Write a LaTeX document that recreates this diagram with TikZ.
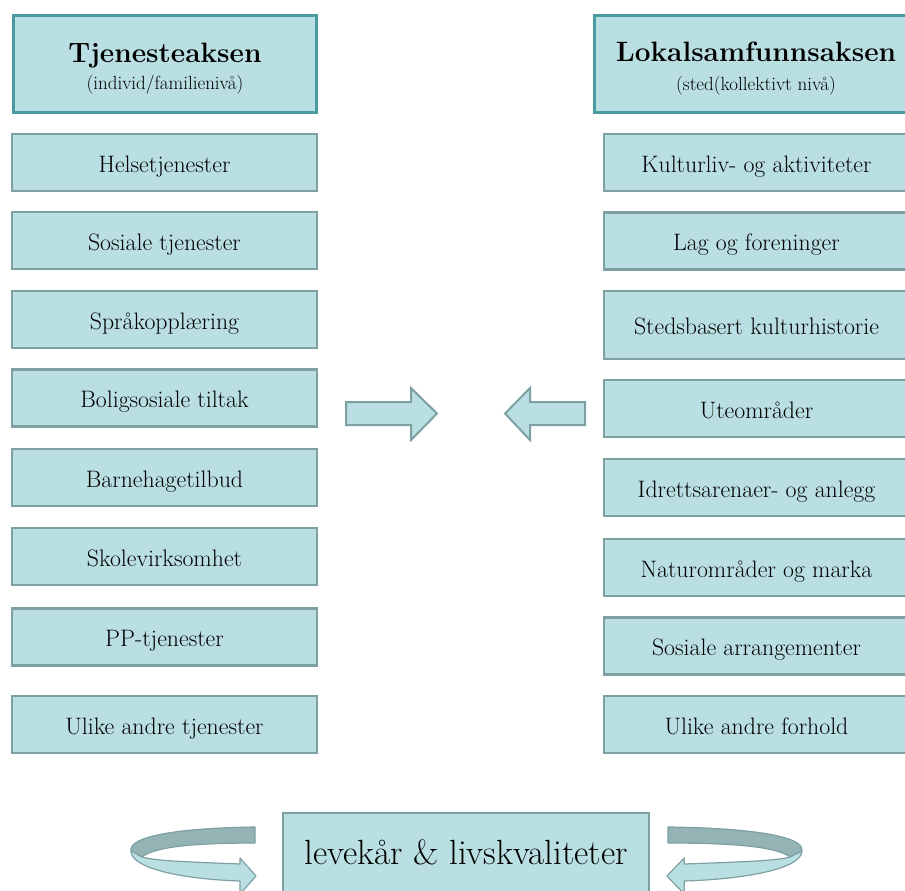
\documentclass[tikz,border=0pt]{standalone}
\usepackage{fontspec}
\definecolor{boxfill}{HTML}{BADFE3}
\definecolor{itemline}{HTML}{7FA0A3}
\definecolor{headline}{HTML}{4A9BA0}
\definecolor{bandback}{HTML}{93B3B5}
\newcommand\itemfont{\fontsize{23.8}{26}\selectfont}
\newcommand\titlefont{\fontsize{28}{30}\selectfont\bfseries}
\newcommand\subfont{\fontsize{19}{22}\selectfont}
\newcommand\bigfont{\fontsize{35}{40}\selectfont}
\begin{document}
\begin{tikzpicture}[x=1pt,y=-1pt,
  item/.style={draw=itemline, line width=2.8pt, fill=boxfill, minimum width=305pt,
    minimum height=57pt, inner sep=0pt, font=\itemfont, text=black,
    text height=21pt, text depth=2pt},
  head/.style={draw=headline, line width=3pt, fill=boxfill, minimum height=97pt, inner sep=0pt},
  blockarrow/.style={draw=itemline, line width=2pt, fill=boxfill, line join=miter},
  bandfront/.style={draw=itemline, line width=1.2pt, fill=boxfill, line join=round},
  bandbk/.style={draw=itemline, line width=1.2pt, fill=bandback, line join=round}]
\clip (0,0) rectangle (905,891);
\fill[white] (0,0) rectangle (905,891);

% headers
\node[head, minimum width=303pt] (hL) at (165,64) {};
\node[anchor=base, font=\titlefont] (hLt) at (165,63) {Tjenesteaksen};
\node[anchor=base, font=\subfont] (hLs) at (165,89) {(individ/familienivå)};
\node[head, minimum width=323pt] (hR) at (756,64) {};
\node[anchor=base, font=\titlefont] (hRt) at (756,62) {Lokalsamfunnsaksen};
\node[anchor=base, font=\subfont] (hRs) at (756,90) {(sted(kollektivt nivå)};

% left column
\node[item] (l1) at (164.5,162.5) {Helsetjenester};
\node[item] (l2) at (164.5,240.5) {Sosiale tjenester};
\node[item] (l3) at (164.5,319.5) {Språkopplæring};
\node[item] (l4) at (164.5,398) {Boligsosiale tiltak};
\node[item] (l5) at (164.5,477.5) {Barnehagetilbud};
\node[item] (l6) at (164.5,556.5) {Skolevirksomhet};
\node[item] (l7) at (164.5,637) {PP-tjenester};
\node[item] (l8) at (164.5,724.5) {Ulike andre tjenester};

% right column
\node[item] (r1) at (756.5,162.5) {Kulturliv- og aktiviteter};
\node[item] (r2) at (756.5,241) {Lag og foreninger};
\node[item, minimum height=68pt] (r3) at (756.5,325) {Stedsbasert kulturhistorie};
\node[item] (r4) at (756.5,408.5) {Uteområder};
\node[item] (r5) at (756.5,487.5) {Idrettsarenaer- og anlegg};
\node[item] (r6) at (756.5,567.5) {Naturområder og marka};
\node[item] (r7) at (756.5,646) {Sosiale arrangementer};
\node[item] (r8) at (756.5,724.5) {Ulike andre forhold};

% middle block arrows
\draw[blockarrow] (346,402) -- (411,402) -- (411,388) -- (437,413.5) -- (411,440)
  -- (411,425) -- (346,425) -- cycle;
\draw[blockarrow] (585,402) -- (530,402) -- (530,388) -- (505,413.5) -- (530,440)
  -- (530,425) -- (585,425) -- cycle;

% bottom box
\node[draw=itemline, line width=2.5pt, fill=boxfill, minimum width=366pt,
  minimum height=100pt, inner sep=0pt] (lv) at (466,863) {};
\node[anchor=base, font=\bigfont] (lvt) at (466,864) {levekår \& livskvaliteter};

% curved arrows
\begin{scope}[shift={(255,0)}]
  \draw[bandbk] (0,827) -- (0,843) .. controls (-55,843) and (-100,846) .. (-113,857)
    -- (-124,851) .. controls (-127,836) and (-75,828) .. (0,827) -- cycle;
  \draw[bandfront] (-124,851) .. controls (-124,868) and (-75,879) .. (-15,881)
    -- (-15,894) -- (1,876) -- (-15,858) -- (-15,864)
    .. controls (-65,862) and (-100,861) .. (-113,857) -- cycle;
\end{scope}
\begin{scope}[shift={(668,0)}, xscale=-1.08]
  \draw[bandbk] (0,827) -- (0,843) .. controls (-55,843) and (-100,846) .. (-113,857)
    -- (-124,851) .. controls (-127,836) and (-75,828) .. (0,827) -- cycle;
  \draw[bandfront] (-124,851) .. controls (-124,868) and (-75,879) .. (-15,881)
    -- (-15,894) -- (1,876) -- (-15,858) -- (-15,864)
    .. controls (-65,862) and (-100,861) .. (-113,857) -- cycle;
\end{scope}
\end{tikzpicture}
\end{document}
